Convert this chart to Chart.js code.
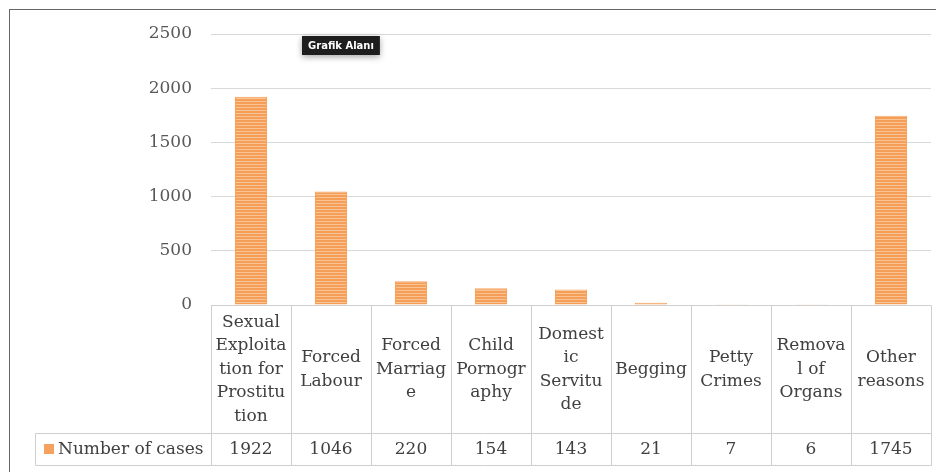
<!DOCTYPE html>
<html>
<head>
<meta charset="utf-8">
<script src="https://cdn.jsdelivr.net/npm/chart.js@4.4.1/dist/chart.umd.min.js"></script>
<style>
  html, body { margin: 0; padding: 0; background: #fff; overflow: hidden; width: 936px; height: 472px; }
  #frame { position: absolute; left: 9px; top: 9px; width: 927px; height: 463px; border-top: 1.5px solid #666; border-left: 1.5px solid #666; }
  #wrap { position: absolute; left: 0; top: 0; width: 936px; height: 472px; }
</style>
</head>
<body>
<div id="frame"></div>
<div id="wrap"><canvas id="chart"></canvas></div>
<script>
// data, wrapped the way the spreadsheet wrapped the column headers
const categories = [
  ['Sexual', 'Exploita', 'tion for', 'Prostitu', 'tion'],
  ['Forced', 'Labour'],
  ['Forced', 'Marriag', 'e'],
  ['Child', 'Pornogr', 'aphy'],
  ['Domest', 'ic', 'Servitu', 'de'],
  ['Begging'],
  ['Petty', 'Crimes'],
  ['Remova', 'l of', 'Organs'],
  ['Other', 'reasons'],
];
const seriesName = 'Number of cases';
const cases = [1922, 1046, 220, 154, 143, 21, 7, 6, 1745];
const yTicks = [0, 500, 1000, 1500, 2000, 2500];
const tipText = 'Grafik Alanı';

const FONT = '"DejaVu Serif", serif';
const ORANGE = '#F4A25E';

// striped fill like the excel pattern
function stripes() {
  const c = document.createElement('canvas');
  c.width = 4; c.height = 3;
  const g = c.getContext('2d');
  g.fillStyle = '#F59E57';
  g.fillRect(0, 0, 4, 3);
  g.fillStyle = '#F9C393';
  g.fillRect(0, 2, 4, 1);
  return g.createPattern(c, 'repeat');
}

const dataTable = {
  id: 'dataTable',
  afterDraw(chart) {
    const ctx = chart.ctx;
    const x = chart.scales.x;
    const area = chart.chartArea;
    const half = (x.getPixelForValue(1) - x.getPixelForValue(0)) / 2;
    const top = Math.round(area.bottom) + 0.5;
    const mid = 433.5, bot = 465.5, legLeft = 35.5;
    const left = Math.round(x.getPixelForValue(0) - half) + 0.5;
    const right = Math.round(x.getPixelForValue(cases.length - 1) + half) + 0.5;

    ctx.save();
    ctx.strokeStyle = '#cfcfcf';
    ctx.lineWidth = 1;
    ctx.beginPath();
    ctx.moveTo(left, top); ctx.lineTo(right, top);
    ctx.moveTo(legLeft, mid); ctx.lineTo(right, mid);
    ctx.moveTo(legLeft, bot); ctx.lineTo(right, bot);
    ctx.moveTo(legLeft, mid); ctx.lineTo(legLeft, bot);
    for (let i = 0; i <= cases.length; i++) {
      const px = Math.round(x.getPixelForValue(i) - half) + 0.5;
      ctx.moveTo(px, top); ctx.lineTo(px, bot);
    }
    ctx.stroke();

    ctx.fillStyle = '#404040';
    ctx.font = '17px ' + FONT;
    ctx.textAlign = 'center';
    ctx.textBaseline = 'middle';
    const lh = 23.5;
    const hMid = (top + mid) / 2;
    categories.forEach((lines, i) => {
      const cx = x.getPixelForValue(i);
      const y0 = hMid - (lines.length - 1) * lh / 2;
      lines.forEach((t, k) => ctx.fillText(t, cx, y0 + k * lh));
      ctx.fillText(String(cases[i]), cx, (mid + bot) / 2);
    });

    // legend key in the table
    ctx.fillStyle = ORANGE;
    ctx.fillRect(44, 444, 10, 10);
    ctx.fillStyle = '#404040';
    ctx.textAlign = 'left';
    ctx.fillText(seriesName, 58, (mid + bot) / 2);

    // hover label left in the screenshot
    ctx.font = 'bold 10px "DejaVu Sans", sans-serif';
    const w = ctx.measureText(tipText).width + 12;
    ctx.shadowColor = 'rgba(0,0,0,0.35)';
    ctx.shadowBlur = 6;
    ctx.shadowOffsetY = 2;
    ctx.fillStyle = '#1e1e1e';
    ctx.fillRect(302, 36, w, 19);
    ctx.shadowColor = 'transparent';
    ctx.fillStyle = '#fff';
    ctx.textAlign = 'left';
    ctx.fillText(tipText, 308, 46);
    ctx.restore();
  }
};

new Chart(document.getElementById('chart'), {
  type: 'bar',
  data: {
    labels: categories,
    datasets: [{
      label: seriesName,
      data: cases,
      backgroundColor: stripes(),
      borderColor: ORANGE,
      borderWidth: 1,
      barPercentage: 0.4,
      categoryPercentage: 1,
    }],
  },
  options: {
    responsive: true,
    maintainAspectRatio: false,
    animation: false,
    layout: { padding: { top: 34, bottom: 167, right: 5, left: 0 } },
    plugins: { legend: { display: false }, tooltip: { enabled: false } },
    scales: {
      x: { display: false },
      y: {
        min: 0,
        max: yTicks[yTicks.length - 1],
        afterFit(s) { s.width = 211; },
        afterBuildTicks(s) { s.ticks = yTicks.map(v => ({ value: v })); },
        border: { display: false },
        grid: { color: '#d9d9d9', drawTicks: false },
        ticks: {
          color: '#595959',
          padding: 19,
          font: { family: FONT, size: 17 },
          callback: v => String(v),
        },
      },
    },
  },
  plugins: [dataTable],
});
</script>
</body>
</html>
